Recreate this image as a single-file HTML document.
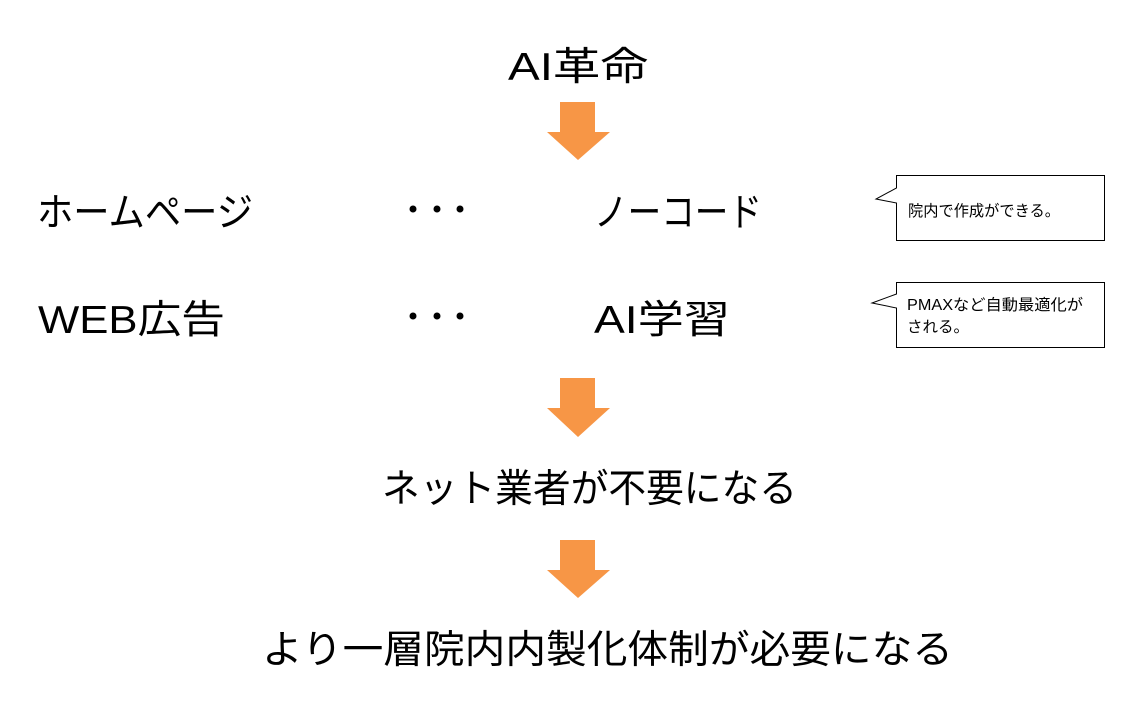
<!DOCTYPE html>
<html><head><meta charset="utf-8"><style>
html,body{margin:0;padding:0;background:#fff;}
svg{display:block;}
text{font-family:"Liberation Sans","Noto Sans CJK JP",sans-serif;fill:#000;}
</style></head><body>
<svg width="1133" height="710" viewBox="0 0 1133 710">
<text x="508" y="80" font-size="39" textLength="140" lengthAdjust="spacingAndGlyphs">AI革命</text>
<polygon points="560,102 595,102 595,132 610,132 578,160 547,132 560,132" fill="#F79646"/>
<text x="37" y="226" font-size="39" textLength="216" lengthAdjust="spacingAndGlyphs">ホームページ</text>
<text x="38" y="333" font-size="39" textLength="187" lengthAdjust="spacingAndGlyphs">WEB広告</text>
<g fill="#000">
<circle cx="413" cy="209" r="3.5"/><circle cx="437" cy="209" r="3.5"/><circle cx="460" cy="209" r="3.5"/>
<circle cx="413" cy="316" r="3.5"/><circle cx="437" cy="316" r="3.5"/><circle cx="460" cy="316" r="3.5"/>
</g>
<text x="594" y="226" font-size="39" textLength="168" lengthAdjust="spacingAndGlyphs">ノーコード</text>
<text x="594" y="333" font-size="39" textLength="136" lengthAdjust="spacingAndGlyphs">AI学習</text>
<path d="M896.5,175.5 H1104.5 V240.5 H896.5 V203 L876,199 L896.5,188 Z" fill="#fff" stroke="#000" stroke-width="1"/>
<text x="908" y="216" font-size="15.5" textLength="152" lengthAdjust="spacingAndGlyphs">院内で作成ができる。</text>
<path d="M896.5,282.5 H1104.5 V347.5 H896.5 V308 L872,303 L896.5,294 Z" fill="#fff" stroke="#000" stroke-width="1"/>
<text x="907" y="310" font-size="15.5" textLength="176" lengthAdjust="spacingAndGlyphs">PMAXなど自動最適化が</text>
<text x="907" y="332" font-size="15.5" textLength="62" lengthAdjust="spacingAndGlyphs">される。</text>
<polygon points="560,378 595,378 595,408 610,408 578,437 547,408 560,408" fill="#F79646"/>
<text x="382" y="502" font-size="39" textLength="415" lengthAdjust="spacingAndGlyphs">ネット業者が不要になる</text>
<polygon points="560,540 595,540 595,570 610,570 578,598 547,570 560,570" fill="#F79646"/>
<text x="262" y="663" font-size="39" textLength="691" lengthAdjust="spacingAndGlyphs">より一層院内内製化体制が必要になる</text>
</svg>
</body></html>
